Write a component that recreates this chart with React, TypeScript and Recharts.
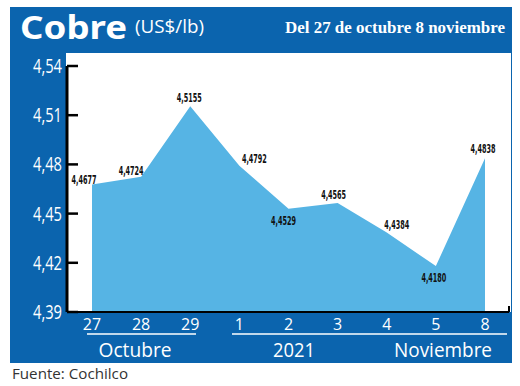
import { Area, AreaChart, LabelList, XAxis, YAxis } from "recharts"

// Cobre (US$/lb), del 27 de octubre al 8 de noviembre 2021
const days = ["27", "28", "29", "1", "2", "3", "4", "5", "8"]
const prices = [4.4677, 4.4724, 4.5155, 4.4792, 4.4529, 4.4565, 4.4384, 4.418, 4.4838]
const yTicks = [4.39, 4.42, 4.45, 4.48, 4.51, 4.54]

// desplazamiento de cada etiqueta respecto de su punto
const labelDx = [-8, -10, -1, 15, -5, -4, 10, -2, -2]
const labelDy = [-1, -2, -4, -3, 16, -4, -4, 16, -5]

const data = days.map((d, i) => ({ day: d, price: prices[i] }))

const BLUE = "#0b64ae"
const AREA = "#56b4e4"

const fmt = (v: number, dec: number) => v.toFixed(dec).replace(".", ",")

function YTick(props: any) {
  const { x, y, payload } = props
  return (
    <g>
      <line x1={x} x2={x + 11} y1={y} y2={y} stroke="#000" strokeWidth={2.5} />
      <text
        x={x - 5}
        y={y + 7}
        textAnchor="end"
        fill="#fff"
        fontSize={20}
        fontFamily="Open Sans"
        textLength={29}
        lengthAdjust="spacingAndGlyphs"
      >
        {fmt(payload.value, 2)}
      </text>
    </g>
  )
}

function XTick(props: any) {
  const { x, y, payload } = props
  return (
    <text x={x} y={y + 18} textAnchor="middle" fill="#fff" fontSize={16} fontFamily="Open Sans">
      {payload.value}
    </text>
  )
}

function PriceLabel(props: any) {
  const { x, y, value, index } = props
  return (
    <text
      x={x + labelDx[index]}
      y={y + labelDy[index]}
      textAnchor="middle"
      fontSize={13}
      fontWeight="bold"
      fontFamily="DejaVu Sans Condensed"
      fill="#111"
      textLength={25}
      lengthAdjust="spacingAndGlyphs"
    >
      {fmt(value, 4)}
    </text>
  )
}

export default function App() {
  return (
    <div style={{ position: "absolute", left: 0, top: 0, width: 520, height: 386, background: "#fff" }}>
      <div style={{ position: "absolute", left: 10, top: 7, width: 502, height: 356, background: BLUE }} />
      <div style={{ position: "absolute", left: 66, top: 53, width: 445, height: 259, background: "#fff" }} />
      <div style={{ position: "absolute", left: 0, top: 0 }}>
        <AreaChart width={520} height={386} data={data} margin={{ top: 66, right: 11, bottom: 0, left: 0 }}>
          <XAxis
            dataKey="day"
            height={74}
            padding={{ left: 25, right: 24 }}
            axisLine={{ stroke: "#000", strokeWidth: 2 }}
            tickLine={false}
            tickSize={0}
            tickMargin={0}
            tick={<XTick />}
            interval={0}
          />
          <YAxis
            width={67}
            domain={[4.39, 4.54]}
            ticks={yTicks}
            allowDataOverflow
            axisLine={{ stroke: "#000", strokeWidth: 3 }}
            tickLine={false}
            tickSize={0}
            tickMargin={0}
            tick={<YTick />}
          />
          <Area
            type="linear"
            dataKey="price"
            stroke="none"
            fill={AREA}
            fillOpacity={1}
            isAnimationActive={false}
          >
            <LabelList dataKey="price" content={<PriceLabel />} />
          </Area>
        </AreaChart>
      </div>
      <svg width={520} height={386} style={{ position: "absolute", left: 0, top: 0, pointerEvents: "none" }}>
        <text x={20} y={39} fill="#fff" fontSize={33} fontWeight="bold" fontFamily="Noto Sans" textLength={107} lengthAdjust="spacingAndGlyphs">
          Cobre
        </text>
        <text x={135} y={33} fill="#fff" fontSize={19} fontFamily="Open Sans" textLength={69} lengthAdjust="spacingAndGlyphs">
          (US$/lb)
        </text>
        <text x={285} y={33} fill="#fff" fontSize={17} fontWeight="bold" fontFamily="Liberation Serif" textLength={220} lengthAdjust="spacingAndGlyphs">
          Del 27 de octubre 8 noviembre
        </text>
        <line x1={509} x2={509} y1={306} y2={312} stroke="#000" strokeWidth={2} />
        <line x1={87} x2={196} y1={334} y2={334} stroke="#fff" strokeWidth={1.5} />
        <line x1={232} x2={507} y1={334} y2={334} stroke="#fff" strokeWidth={1.5} />
        <text x={135} y={357} textAnchor="middle" fill="#fff" fontSize={20} fontFamily="Open Sans" textLength={73} lengthAdjust="spacingAndGlyphs">
          Octubre
        </text>
        <text x={294} y={357} textAnchor="middle" fill="#fff" fontSize={20} fontFamily="Open Sans" textLength={42} lengthAdjust="spacingAndGlyphs">
          2021
        </text>
        <text x={443} y={357} textAnchor="middle" fill="#fff" fontSize={20} fontFamily="Open Sans" textLength={98} lengthAdjust="spacingAndGlyphs">
          Noviembre
        </text>
        <text x={12} y={379} fill="#333" fontSize={15} fontFamily="Open Sans" textLength={116} lengthAdjust="spacingAndGlyphs">
          Fuente: Cochilco
        </text>
      </svg>
    </div>
  )
}
